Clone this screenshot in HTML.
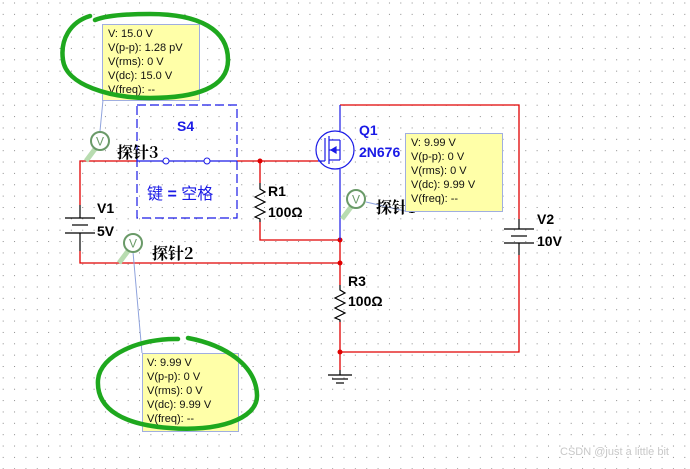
<!DOCTYPE html>
<html><head><meta charset="utf-8"><style>
html,body{margin:0;padding:0;background:#fff;}
svg{display:block;}
text{font-family:"Liberation Sans","Noto Sans CJK SC",sans-serif;}
.tip{font-size:11px;fill:#111;}
.lbl{font-size:14px;font-weight:bold;fill:#000;}
.blu{font-size:14px;font-weight:bold;fill:#1a1ae6;}
.cn{font-size:16px;fill:#000;font-family:"Noto Serif CJK SC","Noto Sans CJK SC",serif;font-weight:bold;}
</style></head><body>
<svg width="690" height="469" viewBox="0 0 690 469" xmlns="http://www.w3.org/2000/svg">
<defs>
<pattern id="g" x="2.7" y="2.5" width="11.36" height="11.36" patternUnits="userSpaceOnUse">
<rect x="0" y="0" width="1" height="1" fill="#8a8a8a"/>
</pattern>
<g id="probe">
<line x1="-14" y1="20" x2="-5" y2="8" stroke="#b8dcb0" stroke-width="5"/>
<circle cx="0" cy="0" r="9" fill="#fff" stroke="#6a9a68" stroke-width="2"/>
<text x="0" y="4.5" font-size="12" text-anchor="middle" fill="#6a9a68" style="font-family:'Liberation Sans',sans-serif">V</text>
</g>
</defs>
<rect width="690" height="469" fill="url(#g)"/>

<g stroke="#e00000" stroke-width="1.3" fill="none">
<polyline points="80,205 80,161 137,161"/>
<line x1="237" y1="161" x2="318" y2="161"/>
<polyline points="80,251 80,263 340,263"/>
<polyline points="260,161 260,183"/>
<polyline points="260,222 260,240 340,240"/>
<polyline points="340,105 519,105 519,219"/>
<polyline points="519,255 519,352 340,352"/>
<line x1="340" y1="240" x2="340" y2="285"/>
<line x1="340" y1="322" x2="340" y2="370"/>
</g>
<g fill="#e00000">
<circle cx="260" cy="161" r="2.5"/><circle cx="340" cy="240" r="2.5"/>
<circle cx="340" cy="263" r="2.5"/><circle cx="340" cy="352" r="2.5"/>
</g>
<g stroke="#1a1ae6" stroke-width="1.2" fill="none">
<line x1="340" y1="105" x2="340" y2="131"/>
<line x1="340" y1="169" x2="340" y2="205"/>
<circle cx="335" cy="150" r="19"/>
<line x1="318" y1="161" x2="325" y2="161"/>
<line x1="325" y1="138" x2="325" y2="161"/>
<line x1="329" y1="136" x2="329" y2="164"/>
<polyline points="329,140 340,140"/><polyline points="329,150 340,150"/><polyline points="329,160 340,160"/>
<line x1="340" y1="140" x2="340" y2="160"/>
<polygon points="331,150 336,147 336,153" fill="#1a1ae6"/>
<line x1="340" y1="205" x2="340" y2="240"/>
</g>
<rect x="137" y="105" width="100" height="113" fill="none" stroke="#1a1ae6" stroke-width="1.2" stroke-dasharray="9,4"/>
<line x1="137" y1="161" x2="163" y2="161" stroke="#1a1ae6" stroke-width="1.2"/>
<line x1="169" y1="161" x2="204" y2="161" stroke="#1a1ae6" stroke-width="1.2"/>
<line x1="210" y1="161" x2="237" y2="161" stroke="#1a1ae6" stroke-width="1.2"/>
<circle cx="166" cy="161" r="3" fill="#fff" stroke="#1a1ae6"/>
<circle cx="207" cy="161" r="3" fill="#fff" stroke="#1a1ae6"/>
<text x="177" y="131" class="blu">S4</text>
<text x="147" y="199" class="blu" style="font-weight:normal;font-size:16px">键 <tspan font-weight="bold">=</tspan> 空格</text>

<g stroke="#000" stroke-width="1.2" fill="none">
<polyline points="260,183 260,189 265,192 255,197 265,202 255,207 265,212 255,217 260,219 260,222"/>
<polyline points="340,285 340,290 345,293 335,298 345,303 335,308 345,313 335,318 340,320 340,322"/>
<line x1="80" y1="205" x2="80" y2="218"/>
<line x1="65" y1="218" x2="95" y2="218"/><line x1="72" y1="225" x2="88" y2="225"/>
<line x1="65" y1="233" x2="95" y2="233"/><line x1="80" y1="233" x2="80" y2="251"/>
<line x1="519" y1="219" x2="519" y2="229"/>
<line x1="504" y1="229" x2="534" y2="229"/><line x1="511" y1="236" x2="527" y2="236"/>
<line x1="504" y1="243" x2="534" y2="243"/><line x1="519" y1="243" x2="519" y2="255"/>
<line x1="340" y1="370" x2="340" y2="375"/>
<line x1="328" y1="375" x2="352" y2="375"/><line x1="332" y1="379" x2="348" y2="379"/><line x1="336" y1="383" x2="344" y2="383"/>
</g>
<text x="268" y="196" class="lbl">R1</text><text x="268" y="217" class="lbl">100Ω</text>
<text x="348" y="286" class="lbl">R3</text><text x="348" y="306" class="lbl">100Ω</text>
<text x="97" y="213" class="lbl">V1</text><text x="97" y="236" class="lbl">5V</text>
<text x="537" y="224" class="lbl">V2</text><text x="537" y="246" class="lbl">10V</text>
<text x="359" y="135" class="blu">Q1</text><text x="359" y="157" class="blu">2N676</text>

<g stroke="#8fa3dd" stroke-width="1" fill="none">
<line x1="103" y1="100" x2="100" y2="131"/>
<line x1="133" y1="252" x2="142" y2="353"/>
<line x1="366" y1="202" x2="405" y2="211"/>
</g>
<text x="117" y="158" class="cn">探针3</text>
<text x="152" y="259" class="cn">探针2</text>
<text x="376" y="213" class="cn">探针1</text>
<use href="#probe" x="100" y="141"/>
<use href="#probe" x="133" y="243"/>
<use href="#probe" x="356" y="199"/>

<g>
<rect x="102.5" y="24.5" width="97" height="76" fill="#ffffa8" stroke="#a0aee0"/>
<text class="tip" x="108" y="37">V: 15.0 V</text><text class="tip" x="108" y="51">V(p-p): 1.28 pV</text>
<text class="tip" x="108" y="65">V(rms): 0 V</text><text class="tip" x="108" y="79">V(dc): 15.0 V</text>
<text class="tip" x="108" y="93">V(freq): --</text>
</g>
<g>
<rect x="405.5" y="133.5" width="97" height="78" fill="#ffffa8" stroke="#a0aee0"/>
<text class="tip" x="411" y="146">V: 9.99 V</text><text class="tip" x="411" y="160">V(p-p): 0 V</text>
<text class="tip" x="411" y="174">V(rms): 0 V</text><text class="tip" x="411" y="188">V(dc): 9.99 V</text>
<text class="tip" x="411" y="202">V(freq): --</text>
</g>
<g>
<rect x="142.5" y="353.5" width="96" height="78" fill="#ffffa8" stroke="#a0aee0"/>
<text class="tip" x="147" y="366">V: 9.99 V</text><text class="tip" x="147" y="380">V(p-p): 0 V</text>
<text class="tip" x="147" y="394">V(rms): 0 V</text><text class="tip" x="147" y="408">V(dc): 9.99 V</text>
<text class="tip" x="147" y="422">V(freq): --</text>
</g>

<g stroke="#1ea81e" stroke-width="4.5" fill="none" stroke-linecap="round">
<path d="M90,16 C70,22 60,40 63,60 C66,85 110,98 150,98 C195,98 228,88 228,60 C228,30 200,14 150,14 C125,14 105,16 95,20"/>
<path d="M178,339 C140,338 100,355 98,380 C96,410 125,425 170,428 C215,432 258,420 257,395 C256,365 225,345 188,338"/>
</g>
<text x="560" y="455" font-size="11" fill="#c8c8c8">CSDN @just a little bit</text>
</svg>
</body></html>
